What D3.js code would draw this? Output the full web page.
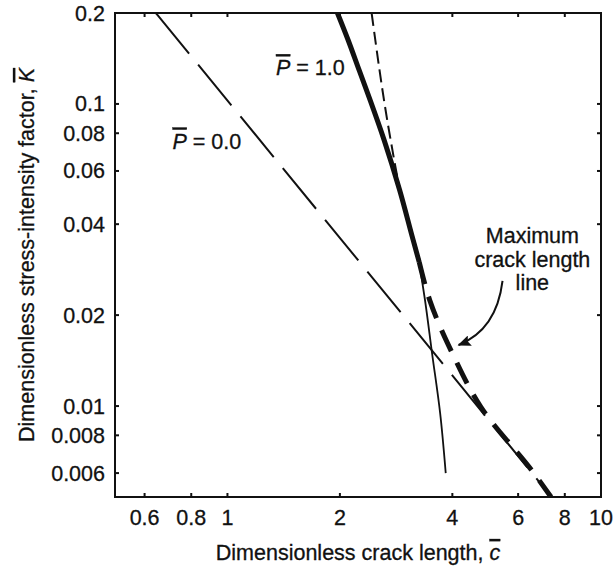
<!DOCTYPE html>
<html>
<head>
<meta charset="utf-8">
<script src="https://cdn.jsdelivr.net/npm/d3@7"></script>
<style>
  html, body { margin: 0; padding: 0; background: #fff; }
  svg { display: block; }
  text { font-family: "Liberation Sans", Arial, Helvetica, sans-serif; fill: #111; stroke: #111; stroke-width: 0.3px; }
</style>
</head>
<body>
<svg id="chart" width="613" height="571"></svg>
<script>
// Axis ticks
const xTicks = [0.6, 0.8, 1, 2, 4, 6, 8, 10];
const xTickLabels = ["0.6", "0.8", "1", "2", "4", "6", "8", "10"];
const yTicks = [0.2, 0.1, 0.08, 0.06, 0.04, 0.02, 0.01, 0.008, 0.006];
const yTickLabels = ["0.2", "0.1", "0.08", "0.06", "0.04", "0.02", "0.01", "0.008", "0.006"];

// P = 0.0 curve (long dashes)
const p0C = [0.643, 3.76, 7.37];
const p0K = [0.2, 0.01386, 0.005];

// P = 1.0 curve, stable branch (thick solid)
const p1C = [1.97, 2.105, 2.252, 2.41, 2.627, 2.89, 3.142, 3.26];
const p1K = [0.2, 0.1625, 0.1293, 0.1029, 0.0759, 0.0519, 0.0354, 0.030];

// P = 1.0 curve, continuation past the maximum (thin solid)
const p1TailC = [3.26, 3.38, 3.53, 3.71, 3.84];
const p1TailK = [0.030, 0.0224, 0.01495, 0.00947, 0.0060];

// Upper envelope (thin short dashes)
const envC = [2.432, 2.735, 2.90, 3.16, 3.28];
const envK = [0.2, 0.0759, 0.0519, 0.0354, 0.030];

// Maximum crack length line (thick dashes)
const maxC = [3.26, 3.48, 4.0, 4.76, 6.61, 7.35];
const maxK = [0.030, 0.0224, 0.01495, 0.00996, 0.0060, 0.0050];

const svg = d3.select("#chart");
const W = 613, H = 571;
const margin = { top: 13, right: 12, bottom: 74, left: 115 };
const x0 = margin.left, x1 = W - margin.right;
const y0 = H - margin.bottom, y1 = margin.top;

const x = d3.scaleLog().domain([0.5, 10]).range([x0, x1]);
const y = d3.scaleLog().domain([0.005, 0.2]).range([y0, y1]);

const zip = (cs, ks) => cs.map((c, i) => [c, ks[i]]);

const defs = svg.append("defs");
defs.append("clipPath").attr("id", "plot-clip")
  .append("rect").attr("x", x0).attr("y", y1).attr("width", x1 - x0).attr("height", y0 - y1);

const line = d3.line()
  .x(d => x(d[0]))
  .y(d => y(d[1]))
  .curve(d3.curveMonotoneY);

const plot = svg.append("g").attr("clip-path", "url(#plot-clip)");

// P = 0.0
plot.append("path")
  .attr("d", line(zip(p0C, p0K)))
  .attr("fill", "none").attr("stroke", "#111").attr("stroke-width", 2)
  .attr("stroke-dasharray", "52.5,14.3");

// upper envelope
plot.append("path")
  .attr("d", line(zip(envC, envK)))
  .attr("fill", "none").attr("stroke", "#111").attr("stroke-width", 2)
  .attr("stroke-dasharray", "13,6");

// P = 1.0 tail
plot.append("path")
  .attr("d", line(zip(p1TailC, p1TailK)))
  .attr("fill", "none").attr("stroke", "#111").attr("stroke-width", 1.8);

// P = 1.0 thick
plot.append("path")
  .attr("d", line(zip(p1C, p1K)))
  .attr("fill", "none").attr("stroke", "#111").attr("stroke-width", 5);

// maximum crack length line
plot.append("path")
  .attr("d", line(zip(maxC, maxK)))
  .attr("fill", "none").attr("stroke", "#111").attr("stroke-width", 5)
  .attr("stroke-dasharray", "23,13");

// Frame
svg.append("rect")
  .attr("x", x0).attr("y", y1).attr("width", x1 - x0).attr("height", y0 - y1)
  .attr("fill", "none").attr("stroke", "#111").attr("stroke-width", 2);

// Inward ticks on all four sides
const tickLen = 4;
const tg = svg.append("g").attr("stroke", "#111").attr("stroke-width", 2);
xTicks.forEach(v => {
  const px = x(v);
  tg.append("line").attr("x1", px).attr("x2", px).attr("y1", y0).attr("y2", y0 - tickLen);
  tg.append("line").attr("x1", px).attr("x2", px).attr("y1", y1).attr("y2", y1 + tickLen);
});
yTicks.forEach(v => {
  const py = y(v);
  tg.append("line").attr("x1", x0).attr("x2", x0 + tickLen).attr("y1", py).attr("y2", py);
  tg.append("line").attr("x1", x1).attr("x2", x1 - tickLen).attr("y1", py).attr("y2", py);
});

const FS = 21.5;

// Tick labels
xTicks.forEach((v, i) => {
  svg.append("text").attr("x", x(v)).attr("y", y0 + 28)
    .attr("text-anchor", "middle").attr("font-size", FS).text(xTickLabels[i]);
});
yTicks.forEach((v, i) => {
  svg.append("text").attr("x", x0 - 10).attr("y", y(v) + 7.5)
    .attr("text-anchor", "end").attr("font-size", FS).text(yTickLabels[i]);
});

// Axis titles
const xt = svg.append("text").attr("x", (x0 + x1) / 2).attr("y", 560)
  .attr("text-anchor", "middle").attr("font-size", FS);
xt.append("tspan").text("Dimensionless crack length, ");
xt.append("tspan").attr("font-style", "italic").style("text-decoration", "overline").text("c");

const yt = svg.append("text")
  .attr("transform", `translate(34,${(y0 + y1) / 2}) rotate(-90)`)
  .attr("text-anchor", "middle").attr("font-size", FS);
yt.append("tspan").text("Dimensionless stress-intensity factor, ");
yt.append("tspan").attr("font-style", "italic").style("text-decoration", "overline").text("K");

// Curve labels
function pLabel(c, k, anchor, value) {
  const t = svg.append("text").attr("x", x(c)).attr("y", y(k))
    .attr("text-anchor", anchor).attr("font-size", FS);
  t.append("tspan").attr("font-style", "italic").style("text-decoration", "overline").text("P");
  t.append("tspan").text(" = " + value);
}
pLabel(2.06, 0.1245, "end", "1.0");
pLabel(0.7127, 0.0712, "start", "0.0");

// Annotation
const noteLines = ["Maximum", "crack length", "line"];
const note = svg.append("text").attr("text-anchor", "middle").attr("font-size", FS);
noteLines.forEach((s, i) => {
  note.append("tspan").attr("x", x(6.55)).attr("y", y(0.03454) + i * 23.4).text(s);
});

const arrowStart = [5.45, 0.02594], arrowCtrl = [5.253, 0.01786], arrowEnd = [4.157, 0.01592];
defs.append("marker")
  .attr("id", "head").attr("viewBox", "0 0 12 10").attr("refX", 11).attr("refY", 5)
  .attr("markerWidth", 7).attr("markerHeight", 5.5).attr("markerUnits", "strokeWidth")
  .attr("orient", "auto")
  .append("path").attr("d", "M0,0 L12,5 L0,10 L2,5 Z").attr("fill", "#111");
svg.append("path")
  .attr("d", `M${x(arrowStart[0])},${y(arrowStart[1])} Q${x(arrowCtrl[0])},${y(arrowCtrl[1])} ${x(arrowEnd[0])},${y(arrowEnd[1])}`)
  .attr("fill", "none").attr("stroke", "#111").attr("stroke-width", 2)
  .attr("marker-end", "url(#head)");
</script>
</body>
</html>
